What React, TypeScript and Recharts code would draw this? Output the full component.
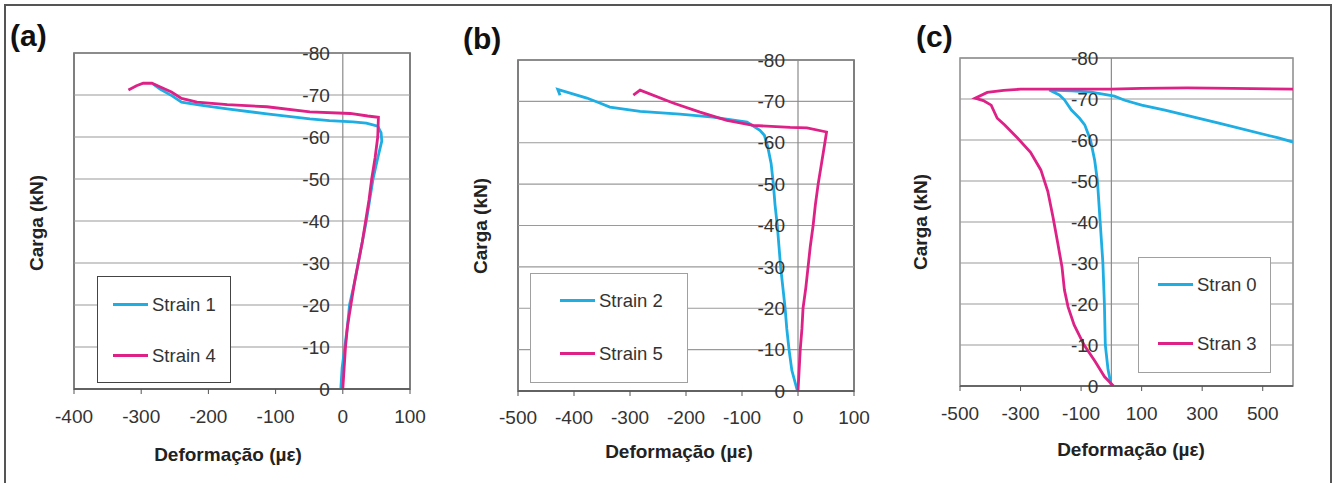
import {
  LineChart,
  Line,
  XAxis,
  YAxis,
  ReferenceLine,
  ReferenceArea,
  ReferenceDot,
} from 'recharts';

const FONT = '"Liberation Sans", Arial, Helvetica, sans-serif';
const CYAN = '#1eaee3';
const MAGENTA = '#dd2186';
const TEXT = '#333';

type Pt = { x: number; y: number };

// Load axis (kN), shown from -80 (top) to 0 (bottom)
const yTicks = [-80, -70, -60, -50, -40, -30, -20, -10, 0];

// Strain axis ticks per panel
const xTicksA = [-400, -300, -200, -100, 0, 100];
const xTicksB = [-500, -400, -300, -200, -100, 0, 100];
const xTicksC = [-500, -300, -100, 100, 300, 500];

// (a) Strain 1 / Strain 4
const strain1: Pt[] = [
  { x: -3, y: 0 }, { x: -1, y: -5 }, { x: 3, y: -10 }, { x: 7, y: -15 }, { x: 10, y: -20 },
  { x: 17, y: -25 }, { x: 23, y: -30 }, { x: 29, y: -35 }, { x: 35, y: -40 }, { x: 40, y: -45 },
  { x: 45, y: -50 }, { x: 52, y: -55 }, { x: 58, y: -59 }, { x: 57, y: -61 }, { x: 52, y: -62.6 },
  { x: 35, y: -63.3 }, { x: 15, y: -63.6 }, { x: -20, y: -63.9 }, { x: -49, y: -64.3 },
  { x: -113, y: -65.5 }, { x: -172, y: -66.7 }, { x: -212, y: -67.6 }, { x: -240, y: -68.3 },
  { x: -254, y: -69.8 }, { x: -272, y: -71.4 }, { x: -282, y: -72.6 },
];
const strain4: Pt[] = [
  { x: 0, y: 0 }, { x: 2, y: -5 }, { x: 4, y: -10 }, { x: 7, y: -15 }, { x: 12, y: -20 },
  { x: 17, y: -25 }, { x: 23, y: -30 }, { x: 29, y: -35 }, { x: 34, y: -40 }, { x: 39, y: -45 },
  { x: 43, y: -50 }, { x: 48, y: -55 }, { x: 52, y: -60 }, { x: 53, y: -64.7 }, { x: 37, y: -65 },
  { x: 11, y: -65.6 }, { x: -49, y: -66 }, { x: -113, y: -67.2 }, { x: -172, y: -67.7 },
  { x: -217, y: -68.3 }, { x: -240, y: -69.2 }, { x: -255, y: -70.7 }, { x: -274, y: -72.1 },
  { x: -284, y: -72.8 }, { x: -297, y: -72.8 }, { x: -307, y: -72.2 }, { x: -319, y: -71.2 },
];

// (b) Strain 2 / Strain 5
const strain2: Pt[] = [
  { x: -1, y: 0 }, { x: -11, y: -5 }, { x: -16, y: -10 }, { x: -20, y: -15 }, { x: -23, y: -20 },
  { x: -27, y: -25 }, { x: -31, y: -30 }, { x: -34, y: -35 }, { x: -37, y: -40 }, { x: -41, y: -45 },
  { x: -44, y: -50 }, { x: -48, y: -55 }, { x: -54, y: -59 }, { x: -60, y: -61.8 }, { x: -68, y: -63 },
  { x: -91, y: -65 }, { x: -152, y: -66.2 }, { x: -211, y: -66.9 }, { x: -282, y: -67.6 },
  { x: -336, y: -68.6 }, { x: -354, y: -69.6 }, { x: -377, y: -70.8 }, { x: -429, y: -72.9 },
  { x: -425, y: -71.5 },
];
const strain5: Pt[] = [
  { x: 0, y: 0 }, { x: 2, y: -5 }, { x: 4, y: -10 }, { x: 7, y: -15 }, { x: 9, y: -20 },
  { x: 14, y: -25 }, { x: 18, y: -30 }, { x: 22, y: -35 }, { x: 27, y: -40 }, { x: 31, y: -45 },
  { x: 36, y: -50 }, { x: 42, y: -55 }, { x: 48, y: -60 }, { x: 51, y: -62.6 }, { x: 16, y: -63.6 },
  { x: -14, y: -63.7 }, { x: -80, y: -64.2 }, { x: -127, y: -65.4 }, { x: -175, y: -67.4 },
  { x: -223, y: -69.6 }, { x: -282, y: -72.7 }, { x: -294, y: -71.5 },
];

// (c) Stran 0 / Stran 3
const stran0: Pt[] = [
  { x: 0, y: 0 }, { x: -11, y: -4 }, { x: -20, y: -10 }, { x: -23, y: -20 }, { x: -28, y: -30 },
  { x: -37, y: -40 }, { x: -46, y: -50 }, { x: -55, y: -55 }, { x: -69, y: -60 }, { x: -88, y: -63.7 },
  { x: -105, y: -65.3 }, { x: -132, y: -67.3 }, { x: -155, y: -69.8 }, { x: -172, y: -71 },
  { x: -205, y: -72.2 }, { x: -130, y: -72 }, { x: -66, y: -71.7 }, { x: 10, y: -70.7 },
  { x: 44, y: -69.7 }, { x: 100, y: -68.5 }, { x: 177, y: -67.3 }, { x: 355, y: -64.1 },
  { x: 552, y: -60.5 }, { x: 600, y: -59.5 },
];
const stran3: Pt[] = [
  { x: 7, y: 0 }, { x: -23, y: -2.3 }, { x: -53, y: -5.9 }, { x: -90, y: -10 }, { x: -123, y: -14.9 },
  { x: -143, y: -19.3 }, { x: -155, y: -23.4 }, { x: -163, y: -29 }, { x: -177, y: -34.8 },
  { x: -193, y: -41.3 }, { x: -210, y: -47.5 }, { x: -233, y: -52.7 }, { x: -267, y: -57 },
  { x: -310, y: -60.5 }, { x: -353, y: -63.7 }, { x: -377, y: -65.3 }, { x: -397, y: -68.5 },
  { x: -423, y: -69.6 }, { x: -450, y: -70.2 }, { x: -410, y: -71.6 }, { x: -356, y: -72.1 },
  { x: -300, y: -72.4 }, { x: -100, y: -72.4 }, { x: 0, y: -72.4 }, { x: 100, y: -72.6 },
  { x: 250, y: -72.7 }, { x: 400, y: -72.6 }, { x: 600, y: -72.4 },
];

type Series = { name: string; data: Pt[]; color: string };

interface PanelProps {
  left: number;
  width: number;
  margin: { top: number; right: number; bottom: number; left: number };
  xDomain: [number, number];
  xTicks: number[];
  tickMargin: number;
  frame: string;
  series: Series[];
}

function Panel({ left, width, margin, xDomain, xTicks, tickMargin, frame, series }: PanelProps) {
  return (
    <div style={{ position: 'absolute', left, top: 0 }}>
      <LineChart width={width} height={483} margin={margin}>
        <XAxis
          type="number"
          dataKey="x"
          domain={xDomain}
          ticks={xTicks}
          allowDataOverflow
          height={50}
          tickSize={5}
          tickMargin={tickMargin}
          stroke="#555"
          axisLine={{ stroke: '#555', strokeWidth: 1.5 }}
          tick={{ fill: TEXT, fontSize: 19, fontFamily: FONT }}
        />
        <YAxis
          type="number"
          dataKey="y"
          domain={[-80, 0]}
          ticks={yTicks}
          reversed
          allowDataOverflow
          width={0}
          tick={false}
          axisLine={false}
          tickLine={false}
        />
        {/* horizontal gridlines */}
        {yTicks.map(v => (
          <ReferenceLine key={`g${v}`} y={v} stroke="#9a9a9a" strokeWidth={1.2} />
        ))}
        <ReferenceLine x={0} stroke="#8a8a8a" strokeWidth={1.2} />
        <ReferenceArea
          x1={xDomain[0]}
          x2={xDomain[1]}
          y1={-80}
          y2={0}
          fill="none"
          stroke={frame}
          strokeWidth={1.5}
        />
        {yTicks.map(v => (
          <ReferenceDot
            key={v}
            x={0}
            y={v}
            r={0}
            fill="none"
            stroke="none"
            label={{ value: String(v), position: 'left', offset: 13, fill: TEXT, fontSize: 19, fontFamily: FONT }}
          />
        ))}
        {series.map(s => (
          <Line
            key={s.name}
            data={s.data}
            dataKey="y"
            type="linear"
            stroke={s.color}
            strokeWidth={2.8}
            dot={false}
            isAnimationActive={false}
          />
        ))}
      </LineChart>
    </div>
  );
}

interface LegendBoxProps {
  left: number;
  top: number;
  width: number;
  height: number;
  border: string;
  lineX: number;
  rows: { name: string; color: string; y: number }[];
}

function LegendBox({ left, top, width, height, border, lineX, rows }: LegendBoxProps) {
  return (
    <div
      style={{
        position: 'absolute', left, top, width, height, boxSizing: 'border-box',
        border: `1.5px solid ${border}`, background: '#fff',
      }}
    >
      {rows.map(r => (
        <div key={r.name}>
          <div style={{ position: 'absolute', left: lineX, top: r.y - 1.5, width: 35, height: 3, background: r.color }} />
          <div
            style={{
              position: 'absolute', left: lineX + 39, top: r.y - 9.5, fontSize: 18.5, lineHeight: '19px',
              fontFamily: FONT, color: TEXT, whiteSpace: 'nowrap',
            }}
          >
            {r.name}
          </div>
        </div>
      ))}
    </div>
  );
}

const titleStyle: React.CSSProperties = {
  position: 'absolute', fontFamily: FONT, fontWeight: 'bold', fontSize: 19, lineHeight: '19px',
  color: '#222', whiteSpace: 'nowrap',
};
const panelLabel: React.CSSProperties = {
  position: 'absolute', fontFamily: FONT, fontWeight: 'bold', fontSize: 30, lineHeight: '30px',
  color: '#111', whiteSpace: 'nowrap',
};

function XTitle({ cx, top }: { cx: number; top: number }) {
  return <div style={{ ...titleStyle, left: cx, top, transform: 'translateX(-50%)' }}>Deformação (µε)</div>;
}
function YTitle({ cx, cy }: { cx: number; cy: number }) {
  return (
    <div style={{ ...titleStyle, left: cx, top: cy, transform: 'translate(-50%, -50%) rotate(-90deg)' }}>
      Carga (kN)
    </div>
  );
}

export default function App() {
  return (
    <div style={{ position: 'fixed', left: 0, top: 0, width: 1333, height: 483, background: '#fff', overflow: 'hidden' }}>
      <div
        style={{
          position: 'absolute', left: 4, top: 4, width: 1328, height: 500, boxSizing: 'border-box',
          borderTop: '2px solid #555', borderLeft: '2px solid #555', borderRight: '2px solid #555',
        }}
      />

      <Panel
        left={0}
        width={445}
        margin={{ top: 53, right: 35, bottom: 44, left: 74 }}
        xDomain={[-400, 100]}
        xTicks={xTicksA}
        tickMargin={16}
        frame="#555"
        series={[
          { name: 'Strain 1', data: strain1, color: CYAN },
          { name: 'Strain 4', data: strain4, color: MAGENTA },
        ]}
      />
      <Panel
        left={445}
        width={445}
        margin={{ top: 60, right: 36, bottom: 42, left: 73 }}
        xDomain={[-500, 100]}
        xTicks={xTicksB}
        tickMargin={15}
        frame="#555"
        series={[
          { name: 'Strain 2', data: strain2, color: CYAN },
          { name: 'Strain 5', data: strain5, color: MAGENTA },
        ]}
      />
      <Panel
        left={890}
        width={443}
        margin={{ top: 58, right: 40, bottom: 47, left: 70 }}
        xDomain={[-500, 600]}
        xTicks={xTicksC}
        tickMargin={16}
        frame="#8a8a8a"
        series={[
          { name: 'Stran 0', data: stran0, color: CYAN },
          { name: 'Stran 3', data: stran3, color: MAGENTA },
        ]}
      />

      <LegendBox
        left={97} top={276} width={134} height={107} border="#444" lineX={15}
        rows={[{ name: 'Strain 1', color: CYAN, y: 27 }, { name: 'Strain 4', color: MAGENTA, y: 78 }]}
      />
      <LegendBox
        left={530} top={273} width={158} height={110} border="#a0a0a0" lineX={29}
        rows={[{ name: 'Strain 2', color: CYAN, y: 26 }, { name: 'Strain 5', color: MAGENTA, y: 79 }]}
      />
      <LegendBox
        left={1138} top={257} width={133} height={116} border="#a0a0a0" lineX={19}
        rows={[{ name: 'Stran 0', color: CYAN, y: 26 }, { name: 'Stran 3', color: MAGENTA, y: 85 }]}
      />

      <div style={{ ...panelLabel, left: 10, top: 21 }}>(a)</div>
      <div style={{ ...panelLabel, left: 463, top: 24 }}>(b)</div>
      <div style={{ ...panelLabel, left: 916, top: 22 }}>(c)</div>

      <XTitle cx={228} top={445} />
      <XTitle cx={679} top={442} />
      <XTitle cx={1131} top={440} />
      <YTitle cx={36} cy={223} />
      <YTitle cx={480} cy={226} />
      <YTitle cx={920} cy={222} />
    </div>
  );
}
